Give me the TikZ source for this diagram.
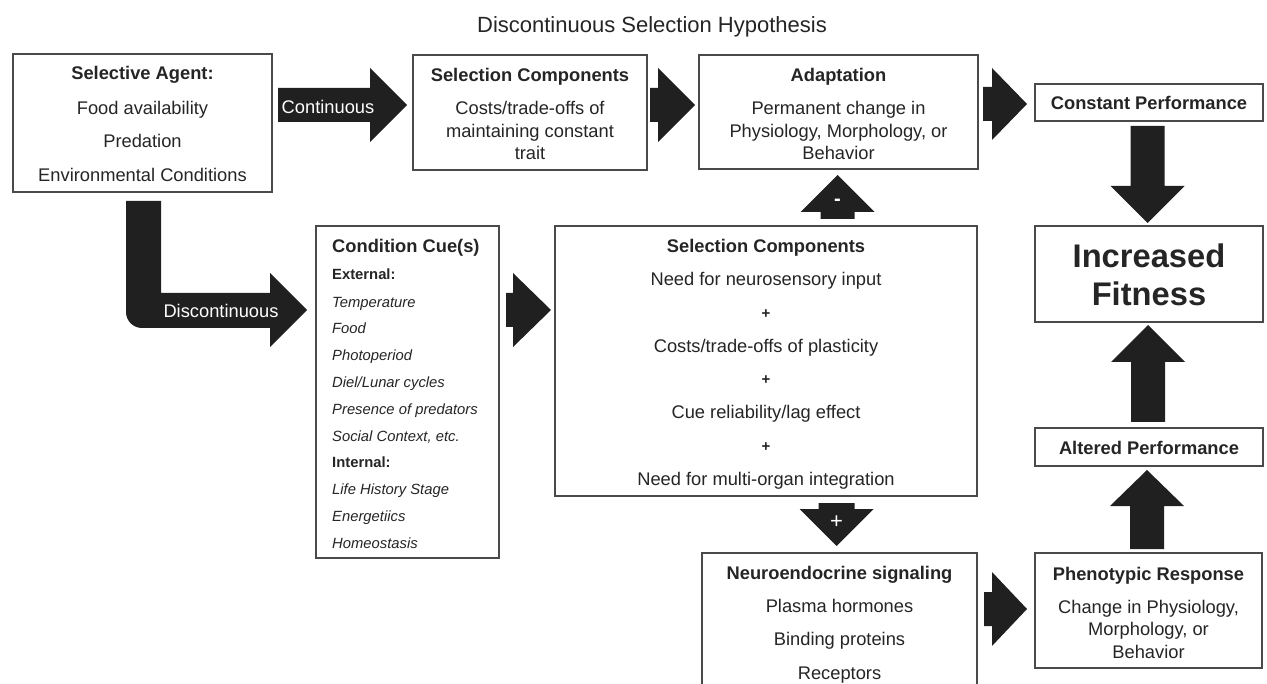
\documentclass[tikz,border=0pt]{standalone}
\usepackage{fontspec}
\setmainfont{Liberation Sans}
\definecolor{boxc}{HTML}{4A4A4A}
\definecolor{arrc}{HTML}{202020}
\definecolor{txtc}{HTML}{252525}
\newcommand{\myHarrow}[6]{\fill[arrc] (#1,#4-#5) -- (#2,#4-#5) -- (#2,#4-#6) -- (#3,#4) -- (#2,#4+#6) -- (#2,#4+#5) -- (#1,#4+#5) -- cycle;}
\newcommand{\myVarrow}[6]{\fill[arrc] (#1-#5,#2) -- (#1+#5,#2) -- (#1+#5,#3) -- (#1+#6,#3) -- (#1,#4) -- (#1-#6,#3) -- (#1-#5,#3) -- cycle;}
\begin{document}
\begin{tikzpicture}[x=1pt,y=-1pt,
  box/.style={draw=boxc, line width=1.4pt, fill=white, inner sep=0pt, outer sep=0pt},
  t/.style={font=\fontsize{18.3}{22}\selectfont, text=txtc, inner sep=0pt, text height=13.1pt, text depth=0pt},
  tb/.style={t, font=\fontsize{18.3}{22}\selectfont\bfseries},
  tw/.style={t, text=white},
  si/.style={font=\fontsize{14.8}{18}\selectfont\itshape, text=txtc, inner sep=0pt, text height=10.6pt, text depth=0pt, anchor=west},
  sb/.style={si, font=\fontsize{14.8}{18}\selectfont\bfseries},
  pl/.style={font=\fontsize{15}{18}\selectfont\bfseries, text=txtc, inner sep=0pt, text height=10.6pt, text depth=0pt},
  big/.style={font=\fontsize{32.7}{38}\selectfont\bfseries, text=txtc, inner sep=0pt, text height=23.4pt, text depth=0pt},
  ttl/.style={font=\fontsize{22}{26}\selectfont, text=txtc, inner sep=0pt, text height=15.8pt, text depth=0pt}
]
\useasboundingbox (0,0) rectangle (1267,684);
\clip (0,0) rectangle (1267,684);
\fill[white] (0,0) rectangle (1267,684);

% title
\node[ttl] (title) at (652,25) {Discontinuous Selection Hypothesis};

% boxes
\node[box, minimum width=259pt, minimum height=138pt] (agent) at (142.5,123) {};
\node[box, minimum width=234pt, minimum height=115pt] (sc1) at (530,112.5) {};
\node[box, minimum width=279pt, minimum height=114pt] (adapt) at (838.5,112) {};
\node[box, minimum width=228pt, minimum height=37pt] (const) at (1149,102.5) {};
\node[box, minimum width=228pt, minimum height=96pt] (fit) at (1149,274) {};
\node[box, minimum width=228pt, minimum height=38pt] (alt) at (1149,447) {};
\node[box, minimum width=183pt, minimum height=332pt] (cue) at (407.5,392) {};
\node[box, minimum width=422pt, minimum height=270pt] (sc2) at (766,361) {};
\node[box, minimum width=275pt, minimum height=174pt] (neuro) at (839.5,640) {};
\node[box, minimum width=227pt, minimum height=115pt] (pheno) at (1148.5,610.5) {};

% Selective agent text
\node[tb] (agentT) at (142.5,73) {Selective Agent:};
\node[t] (agent1) at (142.5,108) {Food availability};
\node[t] (agent2) at (142.5,141) {Predation};
\node[t] (agent3) at (142.5,175) {Environmental Conditions};

% Selection components (top)
\node[tb] (sc1T) at (530,75) {Selection Components};
\node[t] (sc1a) at (530,108) {Costs/trade-offs of};
\node[t] (sc1b) at (530,131) {maintaining constant};
\node[t] (sc1c) at (530,153) {trait};

% Adaptation
\node[tb] (adaptT) at (838.5,75) {Adaptation};
\node[t] (adapt1) at (838.5,108) {Permanent change in};
\node[t] (adapt2) at (838.5,131) {Physiology, Morphology, or};
\node[t] (adapt3) at (838.5,153) {Behavior};

% Constant, Fitness, Altered
\node[tb] (constT) at (1149,103) {Constant Performance};
\node[big] (fit1) at (1149,256) {Increased};
\node[big] (fit2) at (1149,294) {Fitness};
\node[tb] (altT) at (1149,448) {Altered Performance};

% Condition cues
\node[tb, anchor=west] (cueT) at (332,246) {Condition Cue(s)};
\node[sb] (cueE) at (332,274) {External:};
\node[si] (cue1) at (332,302) {Temperature};
\node[si] (cue2) at (332,328) {Food};
\node[si] (cue3) at (332,355) {Photoperiod};
\node[si] (cue4) at (332,382) {Diel/Lunar cycles};
\node[si] (cue5) at (332,409) {Presence of predators};
\node[si] (cue6) at (332,436) {Social Context, etc.};
\node[sb] (cueI) at (332,462) {Internal:};
\node[si] (cue7) at (332,489) {Life History Stage};
\node[si] (cue8) at (332,516) {Energetiics};
\node[si] (cue9) at (332,543) {Homeostasis};

% Selection components (big)
\node[tb] (sc2T) at (766,246) {Selection Components};
\node[t] (sc2a) at (766,279) {Need for neurosensory input};
\node[pl] (p1) at (766,313) {+};
\node[t] (sc2b) at (766,346) {Costs/trade-offs of plasticity};
\node[pl] (p2) at (766,379) {+};
\node[t] (sc2c) at (766,412) {Cue reliability/lag effect};
\node[pl] (p3) at (766,446) {+};
\node[t] (sc2d) at (766,479) {Need for multi-organ integration};

% Neuroendocrine
\node[tb] (neuroT) at (839.5,573) {Neuroendocrine signaling};
\node[t] (neuro1) at (839.5,606) {Plasma hormones};
\node[t] (neuro2) at (839.5,639) {Binding proteins};
\node[t] (neuro3) at (839.5,673) {Receptors};

% Phenotypic
\node[tb] (phenoT) at (1148.5,574) {Phenotypic Response};
\node[t] (pheno1) at (1148.5,607) {Change in Physiology,};
\node[t] (pheno2) at (1148.5,629) {Morphology, or};
\node[t] (pheno3) at (1148.5,652) {Behavior};

% horizontal block arrows
\myHarrow{278}{370}{407}{105}{17}{37}
\myHarrow{650}{658}{695}{105}{17}{37}
\myHarrow{983}{992}{1027}{104}{17}{36}
\myHarrow{506}{513}{551}{310}{17}{37}
\myHarrow{984}{992}{1027}{609}{17}{37}
% vertical block arrows
\myVarrow{1147.5}{126}{186}{223}{17}{37}
\myVarrow{1148}{422}{362}{325}{17}{37}
\myVarrow{1147}{549}{506}{470}{17}{37}
\myVarrow{837.5}{219}{212}{175}{17}{37}
\myVarrow{836.5}{503}{509}{546}{18}{37}
% L-shaped arrow
\fill[arrc] (126,201) -- (161,201) -- (161,293) -- (270,293) -- (270,273) -- (307,310) -- (270,347) -- (270,328) -- (142,328) .. controls (133.2,328) and (126,320.8) .. (126,312) -- cycle;

% labels on arrows
\node[tw] (contL) at (328,107) {Continuous};
\node[tw] (discL) at (221,311) {Discontinuous};
\node[pl, text=white, font=\fontsize{20}{22}\selectfont\bfseries] (minusL) at (837.5,200) {-};
\node[pl, text=white, font=\fontsize{22}{24}\selectfont] (plusL) at (836.5,523) {+};
\end{tikzpicture}
\end{document}
